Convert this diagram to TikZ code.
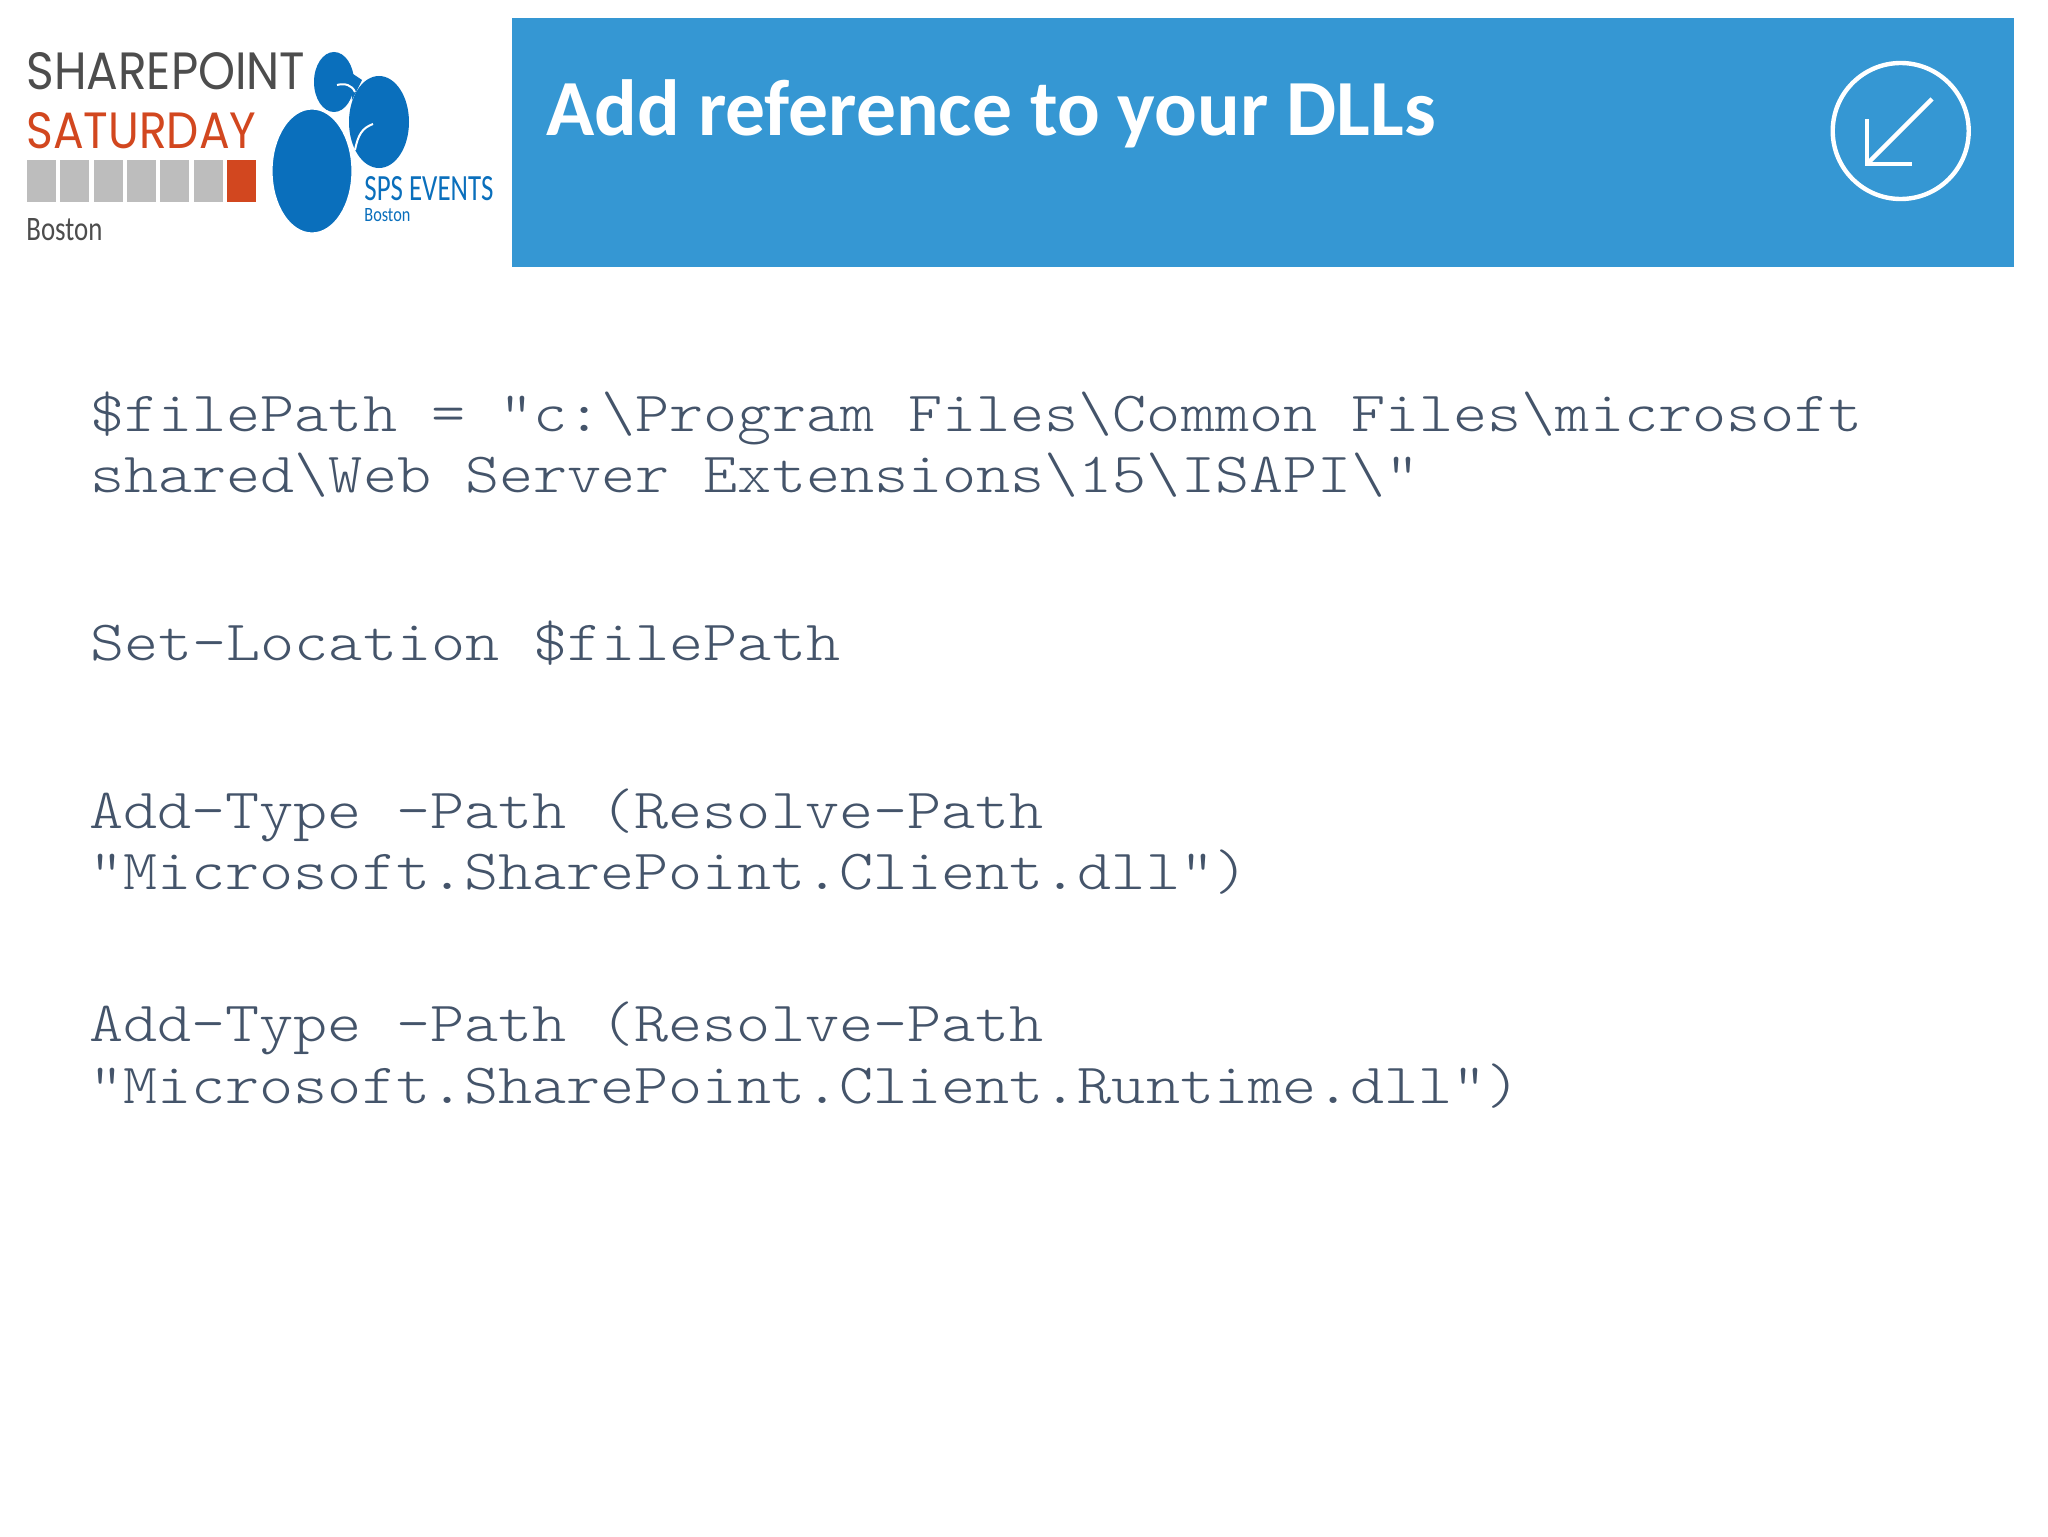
\documentclass[tikz,border=0pt]{standalone}
\usepackage{graphicx}
\usepackage{fontspec}
\setmainfont{Carlito}
\setmonofont[FakeStretch=1.143]{Latin Modern Mono Light}
\newfontfamily\logofont{Poppins}
\definecolor{banner}{HTML}{3597D3}
\definecolor{code}{HTML}{44546A}
\definecolor{logodark}{HTML}{4D4D4D}
\definecolor{logored}{HTML}{D2471F}
\definecolor{logogray}{HTML}{BDBDBD}
\definecolor{logoblue}{HTML}{0A6FBC}
\tikzset{
  codeline/.style={anchor=base west,inner sep=0pt,text=code,font=\fontsize{28.4}{30}\selectfont\ttfamily},
  logotext/.style={anchor=base west,inner sep=0pt},
  square/.style={fill=logogray,draw=none},
  leaf/.style={fill=logoblue,draw=none},
  iconline/.style={draw=white,line width=2.2pt}
}
\begin{document}
\begin{tikzpicture}[x=0.5pt,y=-0.5pt]
\useasboundingbox (0,0) rectangle (2048,1536);
\fill[white] (0,0) rectangle (2048,1536);
% banner
\fill[banner] (512,18) rectangle (2014,267);
\node[anchor=base west,inner sep=0pt,text=white,font=\fontsize{39.8}{44}\selectfont\bfseries] (title) at (546,135) {Add reference to your DLLs};
\draw[iconline] (1900.7,131) circle[radius=68];
\draw[iconline] (1932,99) -- (1867,164);
\draw[iconline,line join=miter] (1867,119) -- (1867,164) -- (1912,164);
% logo text
\node[logotext,text=logodark] (lsp) at (26,90) {\resizebox{139.5pt}{18.5pt}{\logofont SHAREPOINT}};
\node[logotext,text=logored] (lsat) at (26,148) {\resizebox{115pt}{18pt}{\logofont SATURDAY}};
\foreach \x in {27,60,94,127,160,194} \fill[square] (\x,160) rectangle +(29,42);
\fill[logored] (227,160) rectangle (256,202);
\node[logotext,text=logodark] (lbos) at (26,240) {\resizebox{38pt}{11pt}{Boston}};
% logo leaves
\fill[leaf] (334,82) ellipse[x radius=20,y radius=30];
\fill[leaf] (350,72) -- (362,80) -- (352,100) -- cycle;
\fill[leaf] (379,122) ellipse[x radius=30,y radius=46];
\draw[white,line width=1.6pt,fill=logoblue] (312,171) ellipse[x radius=41,y radius=63];
\draw[white,line width=1pt] (337,85) .. controls (345,83) and (352,85) .. (355,92);
\draw[white,line width=1pt] (355,150) .. controls (358,135) and (362,128) .. (373,124);
\node[logotext,text=logoblue] (lsps) at (364,200) {\resizebox{64.5pt}{12pt}{SPS EVENTS}};
\node[logotext,text=logoblue] (lbos2) at (364,221) {\resizebox{23pt}{6.5pt}{Boston}};
% code
\node[codeline] (c1) at (90,431.5) {\$filePath = "c:\textbackslash Program Files\textbackslash Common Files\textbackslash microsoft};
\node[codeline] (c2) at (90,492.5) {shared\textbackslash Web Server Extensions\textbackslash 15\textbackslash ISAPI\textbackslash "};
\node[codeline] (c3) at (90,660.5) {Set-Location \$filePath};
\node[codeline] (c4) at (89,828) {Add-Type -Path (Resolve-Path};
\node[codeline] (c5) at (89,889) {"Microsoft.SharePoint.Client.dll")};
\node[codeline] (c6) at (89,1041) {Add-Type -Path (Resolve-Path};
\node[codeline] (c7) at (89,1103) {"Microsoft.SharePoint.Client.Runtime.dll")};
\end{tikzpicture}
\end{document}
